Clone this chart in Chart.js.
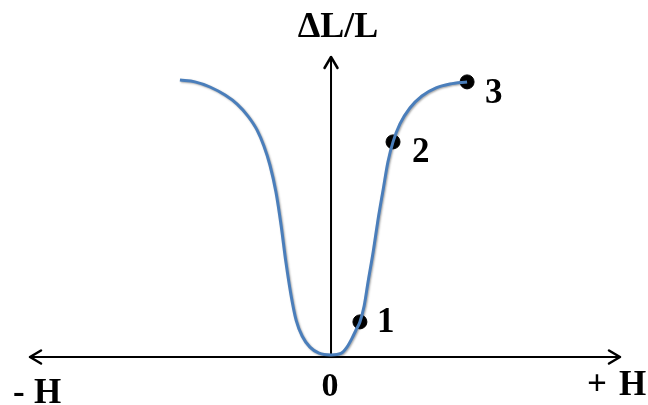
<!DOCTYPE html>
<html lang="en">
<head>
  <meta charset="UTF-8" />
  <title>Magnetostriction</title>
  <script src="https://cdn.jsdelivr.net/npm/chart.js@4.4.1/dist/chart.umd.min.js"></script>
  <style>
    html, body { margin: 0; padding: 0; background: #fff; }
    #wrap { width: 648px; height: 405px; }
  </style>
</head>
<body>
<div id="wrap">
  <canvas id="msChart" width="648" height="405"></canvas>
</div>
<script>
    // field H (arbitrary units) and relative elongation dL/L along the curve
    const fieldH = [
      -5.02, -4.52, -4.02, -3.52, -3.12, -2.76, -2.46, -2.23, -2.03, -1.83,
      -1.66, -1.50, -1.33, -1.16, -0.96, -0.70, -0.40, 0.0, 0.33, 0.53,
      0.70, 0.83, 0.96, 1.10, 1.23, 1.40, 1.56, 1.73, 1.89, 2.06,
      2.29, 2.62, 3.02, 3.49, 3.95, 4.52
    ];
    const strain = [
      9.23, 9.17, 9.00, 8.73, 8.43, 8.03, 7.57, 7.03, 6.40, 5.50,
      4.40, 3.17, 2.07, 1.23, 0.70, 0.33, 0.13, 0.07, 0.12, 0.33,
      0.63, 0.90, 1.17, 1.70, 2.50, 3.50, 4.57, 5.57, 6.50, 7.17,
      7.77, 8.30, 8.70, 8.97, 9.10, 9.17
    ];

    // marked states on the magnetization branch
    const markH = [0.96, 2.06, 4.52];
    const markStrain = [1.17, 7.17, 9.17];
    const markLabels = ["1", "2", "3"];

    const curve = fieldH.map((h, i) => ({ x: h, y: strain[i] }));
    const marks = markH.map((h, i) => ({ x: h, y: markStrain[i] }));

    const serif = "'Liberation Serif', 'Times New Roman', serif";

    function arrowHead(ctx, x, y, dir) {
      // open chevron arrow pointing in direction dir (radians)
      const len = 11, half = 6.5;
      ctx.beginPath();
      const bx = x - Math.cos(dir) * len, by = y - Math.sin(dir) * len;
      const px = -Math.sin(dir) * half, py = Math.cos(dir) * half;
      ctx.moveTo(bx + px, by + py);
      ctx.lineTo(x, y);
      ctx.lineTo(bx - px, by - py);
      ctx.stroke();
    }

    const axesPlugin = {
      id: "arrowAxes",
      beforeDatasetsDraw(chart) {
        const { ctx, chartArea, scales } = chart;
        const x0 = scales.x.getPixelForValue(0);
        const y0 = scales.y.getPixelForValue(0);
        ctx.save();
        ctx.strokeStyle = "#000";
        ctx.lineWidth = 2;
        ctx.lineCap = "round";
        ctx.lineJoin = "round";
        ctx.beginPath();
        ctx.moveTo(chartArea.left, y0);
        ctx.lineTo(chartArea.right, y0);
        ctx.moveTo(x0, y0);
        ctx.lineTo(x0, chartArea.top);
        ctx.stroke();
        ctx.lineWidth = 2.5;
        arrowHead(ctx, chartArea.left, y0, Math.PI);
        arrowHead(ctx, chartArea.right, y0, 0);
        arrowHead(ctx, x0, chartArea.top, -Math.PI / 2);
        ctx.restore();
      },
      beforeDatasetDraw(chart, args) {
        if (args.index === 0) {
          const ctx = chart.ctx;
          ctx.save();
          ctx.shadowColor = "rgba(0,0,0,0.35)";
          ctx.shadowBlur = 2;
          ctx.shadowOffsetX = 1;
          ctx.shadowOffsetY = 1;
        }
      },
      afterDatasetDraw(chart, args) {
        if (args.index === 0) chart.ctx.restore();
      },
      afterDraw(chart) {
        const { ctx, chartArea, scales } = chart;
        const x0 = scales.x.getPixelForValue(0);
        const y0 = scales.y.getPixelForValue(0);
        ctx.save();
        ctx.fillStyle = "#000";
        ctx.textBaseline = "alphabetic";

        ctx.font = "bold 36px " + serif;
        ctx.textAlign = "center";
        ctx.fillText("\u0394L/L", x0 + 7, chartArea.top - 20);

        // "- H" under the left arrow, "+ H" under the right one
        ctx.font = "bold 35px " + serif;
        ctx.textAlign = "left";
        ctx.fillText("-", chartArea.left - 17, y0 + 46);
        ctx.fillText("H", chartArea.left + 4, y0 + 46);
        ctx.fillText("+", chartArea.right - 33, y0 + 38);
        ctx.fillText("H", chartArea.right - 1, y0 + 38);

        ctx.font = "bold 34px " + serif;
        ctx.textAlign = "center";
        ctx.fillText("0", x0 - 1, y0 + 39);

        const offs = [[17, 10], [19, 20], [18, 21]];
        ctx.font = "bold 35px " + serif;
        ctx.textAlign = "left";
        markLabels.forEach((t, i) => {
          const px = scales.x.getPixelForValue(markH[i]);
          const py = scales.y.getPixelForValue(markStrain[i]);
          ctx.fillText(t, px + offs[i][0], py + offs[i][1]);
        });
        ctx.restore();
      }
    };

    const config = {
      type: "scatter",
      data: {
        datasets: [
          {
            data: curve,
            showLine: true,
            borderColor: "#4a7ebb",
            borderWidth: 3,
            pointRadius: 0,
            cubicInterpolationMode: "monotone",
            clip: false,
          },
          {
            data: marks,
            showLine: false,
            pointRadius: 7,
            pointBackgroundColor: "#000",
            pointBorderColor: "#000",
            borderWidth: 1,
            clip: false,
          },
        ],
      },
      options: {
        responsive: false,
        animation: false,
        layout: { padding: { left: 30, right: 28, top: 57, bottom: 48 } },
        scales: {
          x: { type: "linear", min: -10, max: 9.6, display: false },
          y: { type: "linear", min: 0, max: 10, display: false },
        },
        plugins: {
          legend: { display: false },
          tooltip: { enabled: false },
        },
      },
      plugins: [axesPlugin],
    };

    new Chart(document.getElementById("msChart"), config);
</script>
</body>
</html>
